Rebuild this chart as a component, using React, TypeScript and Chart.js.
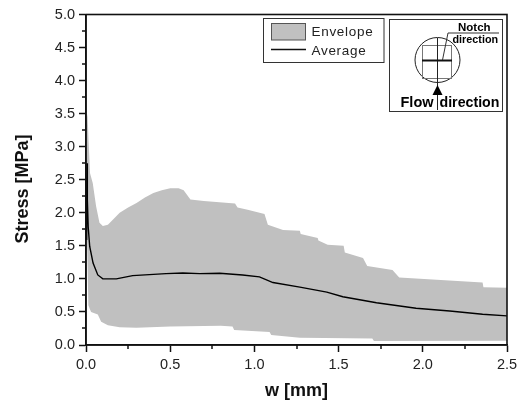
import React, { useEffect, useRef } from "react";
import { Chart, registerables } from "chart.js";

Chart.register(...registerables);

const upperX = [0.003, 0.007, 0.01, 0.015, 0.024, 0.04, 0.06, 0.08, 0.1, 0.13, 0.2, 0.25, 0.3, 0.35, 0.4, 0.45, 0.5, 0.55, 0.58, 0.62, 0.7, 0.885, 0.9, 0.96, 1.06, 1.08, 1.17, 1.27, 1.275, 1.376, 1.38, 1.435, 1.53, 1.537, 1.645, 1.67, 1.82, 1.86, 2.355, 2.36, 2.5];
const upperY = [2.0, 3.5, 3.45, 3.1, 2.6, 2.45, 2.1, 1.85, 1.8, 1.82, 2.0, 2.08, 2.15, 2.23, 2.3, 2.34, 2.37, 2.37, 2.34, 2.2, 2.18, 2.14, 2.08, 2.045, 1.98, 1.82, 1.74, 1.73, 1.68, 1.62, 1.58, 1.515, 1.5, 1.4, 1.315, 1.197, 1.136, 1.02, 0.944, 0.875, 0.865];
const lowerX = [0.003, 0.007, 0.014, 0.03, 0.07, 0.09, 0.13, 0.2, 0.3, 0.5, 0.8, 0.87, 0.88, 1.09, 1.1, 1.27, 1.7, 1.71, 2.5];
const lowerY = [2.0, 1.5, 0.6, 0.5, 0.46, 0.35, 0.3, 0.27, 0.26, 0.28, 0.29, 0.28, 0.227, 0.195, 0.15, 0.11, 0.1, 0.06, 0.065];
const avgX = [0.002, 0.004, 0.006, 0.008, 0.013, 0.022, 0.042, 0.07, 0.1, 0.18, 0.277, 0.475, 0.575, 0.675, 0.794, 0.93, 1.03, 1.11, 1.27, 1.43, 1.525, 1.725, 1.96, 2.16, 2.355, 2.5];
const avgY = [1.6, 2.3, 2.75, 2.2, 1.79, 1.49, 1.24, 1.06, 1.0, 1.0, 1.05, 1.08, 1.09, 1.08, 1.086, 1.06, 1.03, 0.945, 0.875, 0.8, 0.73, 0.64, 0.555, 0.515, 0.465, 0.44];
const legendLabels = ["Envelope", "Average"];
const xTitle = "w [mm]";
const yTitle = "Stress [MPa]";

const zip = (xs: number[], ys: number[]) => xs.map((x, i) => ({ x, y: ys[i] }));
const FONT = '"Liberation Sans", Arial, sans-serif';
const GREY = "#c0c0c0";
const INK = "#222";

const decorations = {
  id: "decorations",
  afterDraw(chart: any) {
    const { ctx, chartArea: a, scales } = chart;
    ctx.save();
    // y axis title
    ctx.save();
    ctx.translate(23, 189);
    ctx.rotate(-Math.PI / 2);
    ctx.fillStyle = "#111";
    ctx.font = `bold 18px ${FONT}`;
    ctx.textAlign = "center";
    ctx.textBaseline = "middle";
    ctx.fillText(yTitle, 0, 0);
    ctx.restore();
    // minor ticks
    ctx.strokeStyle = "#111";
    ctx.lineWidth = 1.5;
    for (let v = 0.25; v < 5; v += 0.5) {
      const y = Math.round(scales.y.getPixelForValue(v));
      ctx.beginPath(); ctx.moveTo(a.left - 4, y); ctx.lineTo(a.left, y); ctx.stroke();
    }
    for (let v = 0.25; v < 2.5; v += 0.5) {
      const x = Math.round(scales.x.getPixelForValue(v));
      ctx.beginPath(); ctx.moveTo(x, a.bottom); ctx.lineTo(x, a.bottom + 4); ctx.stroke();
    }
    // frame
    ctx.strokeStyle = "#111";
    ctx.lineWidth = 1.6;
    ctx.strokeRect(a.left, a.top, a.right - a.left, a.bottom - a.top);

    // legend
    ctx.lineWidth = 1;
    ctx.strokeStyle = "#333";
    ctx.fillStyle = "#fff";
    ctx.fillRect(263.5, 18.5, 120.5, 44);
    ctx.strokeRect(263.5, 18.5, 120.5, 44);
    ctx.fillStyle = GREY;
    ctx.fillRect(271.5, 23.5, 34, 16.5);
    ctx.strokeStyle = "#555";
    ctx.strokeRect(271.5, 23.5, 34, 16.5);
    ctx.strokeStyle = "#111";
    ctx.lineWidth = 1.3;
    ctx.beginPath(); ctx.moveTo(271, 49.5); ctx.lineTo(306, 49.5); ctx.stroke();
    ctx.fillStyle = INK;
    ctx.font = `13.5px ${FONT}`;
    ctx.letterSpacing = "0.7px";
    ctx.textAlign = "left";
    ctx.textBaseline = "alphabetic";
    ctx.fillText(legendLabels[0], 311.5, 36);
    ctx.fillText(legendLabels[1], 311.5, 54.5);
    ctx.letterSpacing = "0px";

    // inset
    ctx.strokeStyle = "#333";
    ctx.lineWidth = 1;
    ctx.fillStyle = "#fff";
    ctx.fillRect(389.5, 19.5, 113, 92);
    ctx.strokeRect(389.5, 19.5, 113, 92);
    ctx.strokeStyle = "#222";
    ctx.beginPath(); ctx.arc(437.5, 60, 22.5, 0, Math.PI * 2); ctx.stroke();
    ctx.strokeStyle = "#777";
    ctx.strokeRect(422.5, 45.5, 29, 33);
    ctx.strokeStyle = "#222";
    ctx.beginPath(); ctx.moveTo(437.5, 38); ctx.lineTo(437.5, 110); ctx.stroke();
    ctx.lineWidth = 2;
    ctx.strokeStyle = "#111";
    ctx.beginPath(); ctx.moveTo(422, 60.5); ctx.lineTo(452, 60.5); ctx.stroke();
    ctx.lineWidth = 1;
    ctx.strokeStyle = "#333";
    ctx.beginPath(); ctx.moveTo(442.5, 60); ctx.lineTo(448, 33); ctx.lineTo(499, 33); ctx.stroke();
    ctx.fillStyle = "#000";
    ctx.beginPath(); ctx.moveTo(437.5, 85); ctx.lineTo(442.5, 95); ctx.lineTo(432.5, 95); ctx.closePath(); ctx.fill();
    ctx.font = `bold 11.5px ${FONT}`;
    ctx.fillText("Notch", 458, 30.5);
    ctx.font = `bold 10.8px ${FONT}`;
    ctx.fillText("direction", 452.5, 43);
    ctx.font = `bold 14.5px ${FONT}`;
    ctx.fillText("Flow", 400.5, 107);
    ctx.font = `bold 14.2px ${FONT}`;
    ctx.fillText("direction", 439.5, 107);
    ctx.restore();
  },
};

export default function App() {
  const ref = useRef<HTMLCanvasElement>(null);
  useEffect(() => {
    const chart = new Chart(ref.current!, {
      type: "line",
      data: {
        datasets: [
          { label: legendLabels[1], data: zip(avgX, avgY), borderColor: "#000", borderWidth: 1.4, pointRadius: 0, fill: false, order: 0 },
          { label: legendLabels[0], data: zip(upperX, upperY), borderColor: GREY, borderWidth: 0, pointRadius: 0, backgroundColor: GREY, fill: "+1", order: 1 },
          { label: "lower", data: zip(lowerX, lowerY), borderColor: GREY, borderWidth: 0, pointRadius: 0, fill: false, order: 2 },
        ],
      },
      options: {
        responsive: false,
        animation: false,
        layout: { padding: { left: 0, top: 14.5, right: 17, bottom: 0 } },
        plugins: { legend: { display: false }, tooltip: { enabled: false } },
        scales: {
          x: {
            type: "linear",
            min: 0,
            max: 2.5,
            afterFit: (s: any) => { s.height = 67; },
            ticks: { stepSize: 0.5, color: INK, font: { family: FONT, size: 14.5 }, padding: 4, maxRotation: 0, callback: (v: any) => Number(v).toFixed(1) },
            grid: { drawOnChartArea: false, tickLength: 7, tickColor: "#111", tickWidth: 1.5 },
            border: { color: "#111", width: 1.6 },
            title: { display: true, text: xTitle, color: "#111", font: { family: FONT, size: 18, weight: "bold" }, padding: { top: 12, bottom: 10 } },
          },
          y: {
            min: 0,
            max: 5,
            afterFit: (s: any) => { s.width = 86; },
            ticks: { stepSize: 0.5, color: INK, font: { family: FONT, size: 14.5 }, padding: 4, callback: (v: any) => Number(v).toFixed(1) },
            grid: { drawOnChartArea: false, tickLength: 7, tickColor: "#111", tickWidth: 1.5 },
            border: { color: "#111", width: 1.6 },
          },
        },
      },
      plugins: [decorations],
    });
    return () => chart.destroy();
  }, []);
  return (
    <canvas ref={ref} width={524} height={412} style={{ position: "absolute", left: 0, top: 0, width: 524, height: 412 }} />
  );
}
